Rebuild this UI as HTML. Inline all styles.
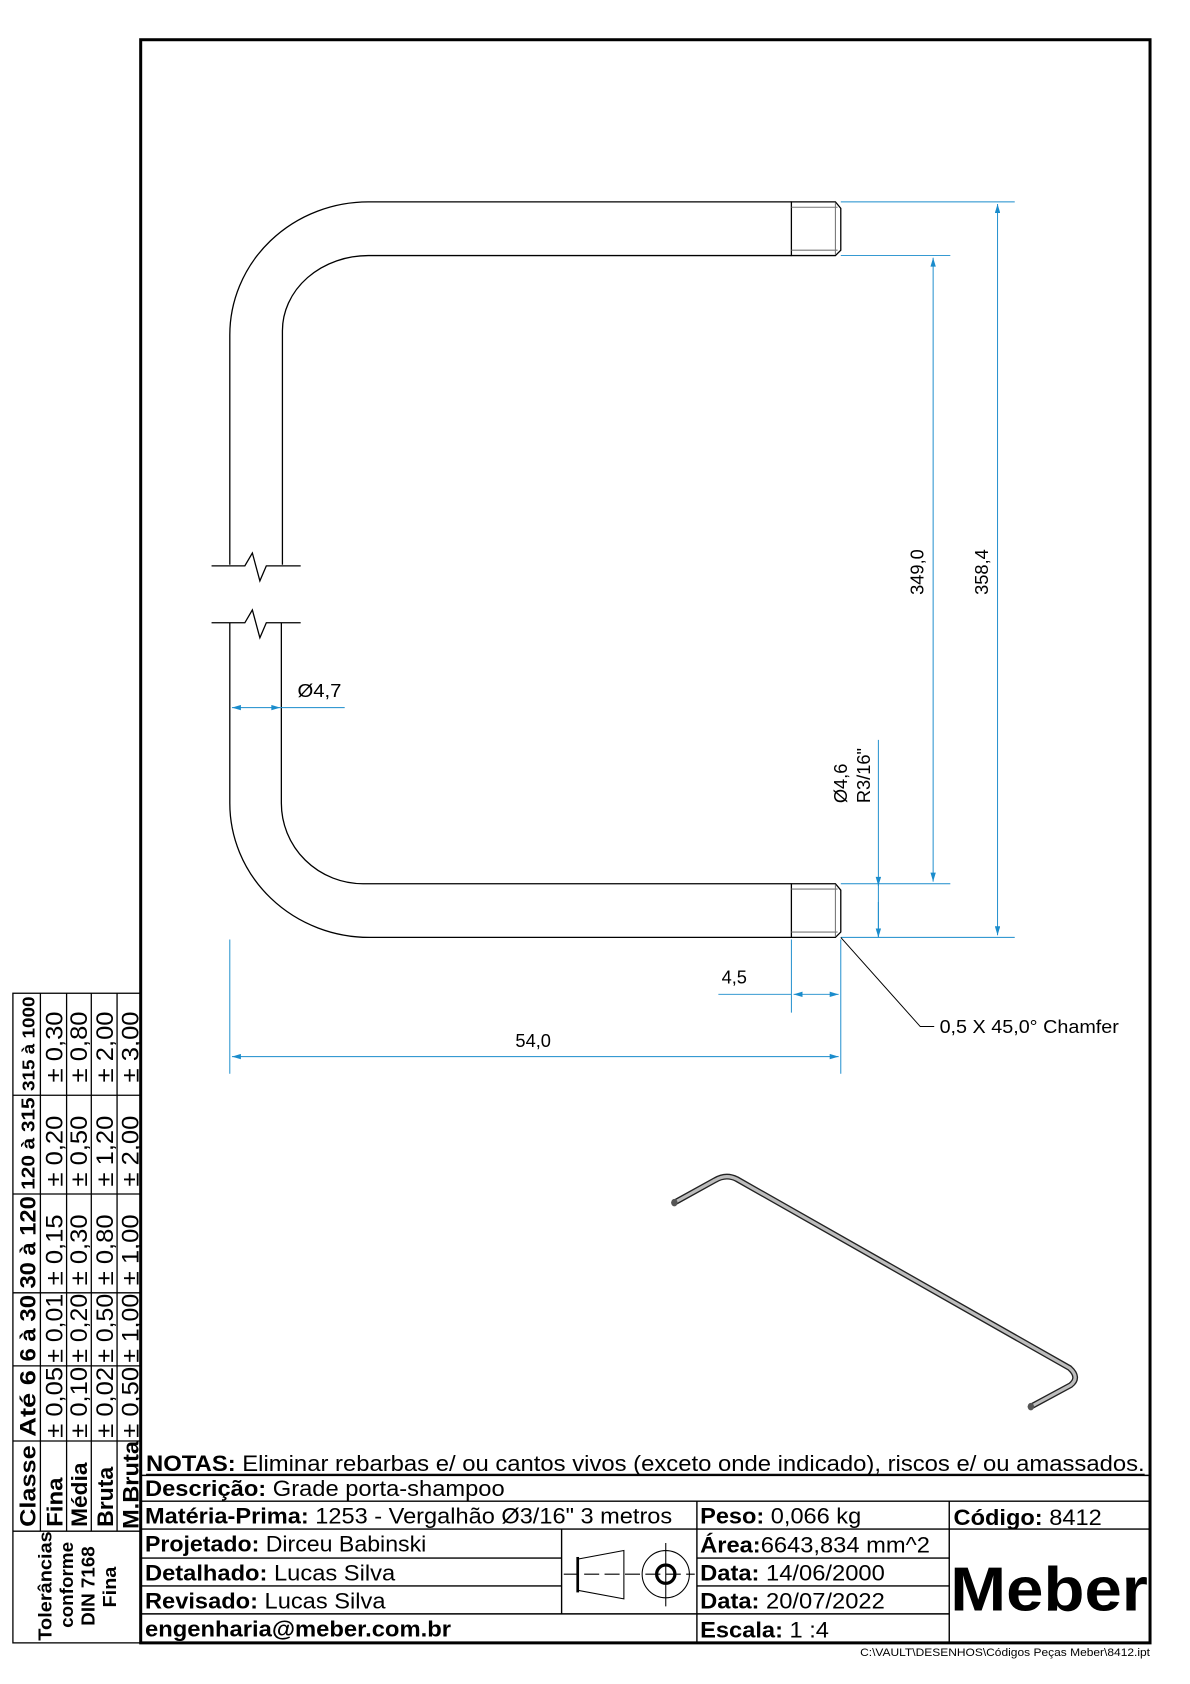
<!DOCTYPE html>
<html><head><meta charset="utf-8"><style>
html,body{margin:0;padding:0;background:#fff;}
svg{display:block;}
text{font-family:"Liberation Sans",Arial,sans-serif;}
.nar{font-family:"Liberation Sans Narrow","Liberation Sans",Arial,sans-serif;}
</style></head><body>
<svg width="1190" height="1684" viewBox="0 0 1108.2 1568.3" xmlns="http://www.w3.org/2000/svg">
<defs>
<marker id="a" viewBox="0 0 10 6" refX="10" refY="3" markerWidth="9" markerHeight="5" orient="auto-start-reverse" markerUnits="userSpaceOnUse"><path d="M0,0 L10,3 L0,6 Z" fill="#1a8ccc"/></marker>
</defs>
<rect width="1108.2" height="1568.3" fill="#fff"/>

<rect x="131" y="37" width="940" height="1493" fill="none" stroke="#000" stroke-width="2.8"/>

<g fill="none" stroke="#000" stroke-width="1.2">
<path d="M214,526 L214,312 A129,124 0 0 1 343,188 L737,188"/>
<path d="M263,526 L263,308 A80,70 0 0 1 343,238 L737,238"/>
<path d="M214,580 L214,748 A130,125 0 0 0 344,873 L737,873"/>
<path d="M262,580 L262,748 A76,75 0 0 0 338,823 L737,823"/>
<path d="M197,527 L228,527 L235,515 L242,541 L248,527 L280,527"/>
<path d="M197,580 L228,580 L235,568 L242,594 L248,580 L280,580"/>
<path d="M737,188 L778,188 L783,194 L783,233 L778,238 L737,238 Z"/>
<path d="M737,823 L778,823 L783,829 L783,868 L778,873 L737,873 Z"/>
</g>
<g stroke="#777" stroke-width="1" fill="none">
<path d="M737,193 L780,193 M737,233 L780,233 M778,189 L778,237"/>
<path d="M737,828 L780,828 M737,868 L780,868 M778,824 L778,872"/>
</g>

<g stroke="#1a8ccc" stroke-width="0.9" fill="none">
<path d="M783,188 L945,188 M783,238 L885,238"/>
<path d="M783,823 L885,823 M783,873 L945,873"/>
<line x1="929" y1="190" x2="929" y2="871" marker-start="url(#a)" marker-end="url(#a)"/>
<line x1="869" y1="240" x2="869" y2="821" marker-start="url(#a)" marker-end="url(#a)"/>
<line x1="818" y1="689" x2="818" y2="825" marker-end="url(#a)"/>
<line x1="818" y1="873" x2="818" y2="840" marker-start="url(#a)"/>
<line x1="818" y1="823" x2="818" y2="873"/>
<line x1="216" y1="659" x2="261" y2="659" marker-start="url(#a)" marker-end="url(#a)"/>
<line x1="261" y1="659" x2="321" y2="659"/>
<path d="M214,875 L214,1000 M783,875 L783,1000 M737,875 L737,943"/>
<line x1="216" y1="984" x2="781" y2="984" marker-start="url(#a)" marker-end="url(#a)"/>
<line x1="669" y1="926" x2="737" y2="926"/>
<line x1="739" y1="926" x2="781" y2="926" marker-start="url(#a)" marker-end="url(#a)"/>
</g>
<path d="M783,873 L857,956 L870,956" fill="none" stroke="#000" stroke-width="0.9"/>

<g font-size="17" fill="#000">
<text x="277" y="649" textLength="41" lengthAdjust="spacingAndGlyphs">Ø4,7</text>
<text x="672" y="916">4,5</text>
<text x="480" y="975">54,0</text>
<text x="875" y="962" textLength="167" lengthAdjust="spacingAndGlyphs">0,5 X 45,0° Chamfer</text>
<text transform="translate(860,554) rotate(-90)">349,0</text>
<text transform="translate(920,554) rotate(-90)">358,4</text>
<text transform="translate(789,748) rotate(-90)">Ø4,6</text>
<text transform="translate(810,748) rotate(-90)">R3/16"</text>
</g>

<g fill="none" stroke-linecap="round" stroke-linejoin="round">
<path d="M628,1120 L666,1099 Q676,1093 686,1098 L996,1274 Q1006,1283 997,1290 L960,1310" stroke="#222" stroke-width="5.5"/>
<path d="M628,1120 L666,1099 Q676,1093 686,1098 L996,1274 Q1006,1283 997,1290 L960,1310" stroke="#bdbdbd" stroke-width="3"/>
</g>
<ellipse cx="628" cy="1120" rx="3" ry="3.5" fill="#555"/>
<ellipse cx="960" cy="1310" rx="3" ry="3.5" fill="#555"/>

<g stroke="#000" stroke-width="1.3" fill="none">
<line x1="131" y1="1374" x2="1071" y2="1374"/>
<line x1="131" y1="1398" x2="1071" y2="1398"/>
<line x1="131" y1="1424" x2="1071" y2="1424"/>
<line x1="649" y1="1398" x2="649" y2="1530"/>
<line x1="884" y1="1398" x2="884" y2="1530"/>
<line x1="523" y1="1424" x2="523" y2="1503"/>
<line x1="131" y1="1451" x2="523" y2="1451"/>
<line x1="131" y1="1477" x2="523" y2="1477"/>
<line x1="131" y1="1503" x2="649" y2="1503"/>
<line x1="649" y1="1451" x2="884" y2="1451"/>
<line x1="649" y1="1477" x2="884" y2="1477"/>
<line x1="649" y1="1503" x2="884" y2="1503"/>
</g>
<g stroke="#000" fill="none">
<path d="M538,1452 L581,1444 L581,1489 L538,1481 Z" stroke-width="1"/>
<line x1="538" y1="1450" x2="538" y2="1483" stroke-width="2.5"/>
<line x1="525" y1="1466" x2="647" y2="1466" stroke-width="1" stroke-dasharray="14,5"/>
<circle cx="620" cy="1466" r="22" stroke-width="1"/>
<circle cx="620" cy="1466" r="8.5" stroke-width="3"/>
<line x1="620" y1="1437" x2="620" y2="1496" stroke-width="1"/>
</g>

<g font-size="21" fill="#000">
<text x="136" y="1370" textLength="930" lengthAdjust="spacingAndGlyphs"><tspan font-weight="bold">NOTAS:</tspan> Eliminar rebarbas e/ ou cantos vivos (exceto onde indicado), riscos e/ ou amassados.</text>
<line x1="136" y1="1373" x2="1066" y2="1373" stroke="#000" stroke-width="1"/>
<text x="135" y="1393" textLength="335" lengthAdjust="spacingAndGlyphs"><tspan font-weight="bold">Descrição:</tspan> Grade porta-shampoo</text>
<text x="135" y="1419" textLength="491" lengthAdjust="spacingAndGlyphs"><tspan font-weight="bold">Matéria-Prima:</tspan> 1253 - Vergalhão Ø3/16" 3 metros</text>
<text x="135" y="1445" textLength="262" lengthAdjust="spacingAndGlyphs"><tspan font-weight="bold">Projetado:</tspan> Dirceu Babinski</text>
<text x="135" y="1472" textLength="233" lengthAdjust="spacingAndGlyphs"><tspan font-weight="bold">Detalhado:</tspan> Lucas Silva</text>
<text x="135" y="1498" textLength="224" lengthAdjust="spacingAndGlyphs"><tspan font-weight="bold">Revisado:</tspan> Lucas Silva</text>
<text x="135" y="1524" font-weight="bold" textLength="285" lengthAdjust="spacingAndGlyphs">engenharia@meber.com.br</text>
</g>
<g font-size="21" fill="#000" class="nar">
<text x="652" y="1419" textLength="150" lengthAdjust="spacingAndGlyphs"><tspan font-weight="bold">Peso:</tspan> 0,066 kg</text>
<text x="652" y="1446" textLength="214" lengthAdjust="spacingAndGlyphs"><tspan font-weight="bold">Área:</tspan>6643,834 mm^2</text>
<text x="652" y="1472" textLength="172" lengthAdjust="spacingAndGlyphs"><tspan font-weight="bold">Data:</tspan> 14/06/2000</text>
<text x="652" y="1498" textLength="172" lengthAdjust="spacingAndGlyphs"><tspan font-weight="bold">Data:</tspan> 20/07/2022</text>
<text x="652" y="1525" textLength="120" lengthAdjust="spacingAndGlyphs"><tspan font-weight="bold">Escala:</tspan> 1 :4</text>
<text x="888" y="1420" textLength="138" lengthAdjust="spacingAndGlyphs"><tspan font-weight="bold">Código:</tspan> 8412</text>
</g>
<text x="885" y="1500" font-size="58" font-weight="bold" fill="#000" textLength="184" lengthAdjust="spacingAndGlyphs">Meber</text>
<text x="1071" y="1542" font-size="10" text-anchor="end" fill="#000" textLength="270" lengthAdjust="spacingAndGlyphs">C:\VAULT\DESENHOS\Códigos Peças Meber\8412.ipt</text>

<g stroke="#000" stroke-width="1.2" fill="none">
<rect x="12" y="925" width="119" height="605"/>
<line x1="12" y1="1426" x2="131" y2="1426"/>
<line x1="12" y1="1342" x2="131" y2="1342"/>
<line x1="12" y1="1272" x2="131" y2="1272"/>
<line x1="12" y1="1204" x2="131" y2="1204"/>
<line x1="12" y1="1112" x2="131" y2="1112"/>
<line x1="12" y1="1020" x2="131" y2="1020"/>
<line x1="37.6" y1="925" x2="37.6" y2="1426"/>
<line x1="62" y1="925" x2="62" y2="1426"/>
<line x1="85" y1="925" x2="85" y2="1426"/>
<line x1="109" y1="925" x2="109" y2="1426"/>
</g>
<g fill="#000" class="nar">
<g font-size="21" font-weight="bold">
<text transform="translate(33,1422) rotate(-90)" textLength="76" lengthAdjust="spacingAndGlyphs">Classe</text>
<text transform="translate(33,1338) rotate(-90)" textLength="62" lengthAdjust="spacingAndGlyphs">Até 6</text>
<text transform="translate(33,1268) rotate(-90)" textLength="62" lengthAdjust="spacingAndGlyphs">6 à 30</text>
<text transform="translate(33,1200) rotate(-90)" textLength="86" lengthAdjust="spacingAndGlyphs">30 à 120</text>
<text transform="translate(32,1108) rotate(-90)" font-size="17" textLength="86" lengthAdjust="spacingAndGlyphs">120 à 315</text>
<text transform="translate(32,1016) rotate(-90)" font-size="16.5" textLength="88" lengthAdjust="spacingAndGlyphs">315 à 1000</text>
<text transform="translate(58,1422) rotate(-90)" textLength="46" lengthAdjust="spacingAndGlyphs">Fina</text>
<text transform="translate(81,1422) rotate(-90)" textLength="60" lengthAdjust="spacingAndGlyphs">Média</text>
<text transform="translate(105,1422) rotate(-90)" textLength="56" lengthAdjust="spacingAndGlyphs">Bruta</text>
<text transform="translate(129,1424) rotate(-90)" textLength="82" lengthAdjust="spacingAndGlyphs">M.Bruta</text>
</g>
<g font-size="22">
<text transform="translate(58,1339) rotate(-90)" textLength="66" lengthAdjust="spacingAndGlyphs">± 0,05</text>
<text transform="translate(81,1339) rotate(-90)" textLength="66" lengthAdjust="spacingAndGlyphs">± 0,10</text>
<text transform="translate(105,1339) rotate(-90)" textLength="66" lengthAdjust="spacingAndGlyphs">± 0,02</text>
<text transform="translate(129,1339) rotate(-90)" textLength="66" lengthAdjust="spacingAndGlyphs">± 0,50</text>
<text transform="translate(58,1269) rotate(-90)" textLength="64" lengthAdjust="spacingAndGlyphs">± 0,01</text>
<text transform="translate(81,1269) rotate(-90)" textLength="64" lengthAdjust="spacingAndGlyphs">± 0,20</text>
<text transform="translate(105,1269) rotate(-90)" textLength="64" lengthAdjust="spacingAndGlyphs">± 0,50</text>
<text transform="translate(129,1269) rotate(-90)" textLength="64" lengthAdjust="spacingAndGlyphs">± 1,00</text>
<text transform="translate(58,1197) rotate(-90)" textLength="66" lengthAdjust="spacingAndGlyphs">± 0,15</text>
<text transform="translate(81,1197) rotate(-90)" textLength="66" lengthAdjust="spacingAndGlyphs">± 0,30</text>
<text transform="translate(105,1197) rotate(-90)" textLength="66" lengthAdjust="spacingAndGlyphs">± 0,80</text>
<text transform="translate(129,1197) rotate(-90)" textLength="66" lengthAdjust="spacingAndGlyphs">± 1,00</text>
<text transform="translate(58,1105) rotate(-90)" textLength="66" lengthAdjust="spacingAndGlyphs">± 0,20</text>
<text transform="translate(81,1105) rotate(-90)" textLength="66" lengthAdjust="spacingAndGlyphs">± 0,50</text>
<text transform="translate(105,1105) rotate(-90)" textLength="66" lengthAdjust="spacingAndGlyphs">± 1,20</text>
<text transform="translate(129,1105) rotate(-90)" textLength="66" lengthAdjust="spacingAndGlyphs">± 2,00</text>
<text transform="translate(58,1008) rotate(-90)" textLength="66" lengthAdjust="spacingAndGlyphs">± 0,30</text>
<text transform="translate(81,1008) rotate(-90)" textLength="66" lengthAdjust="spacingAndGlyphs">± 0,80</text>
<text transform="translate(105,1008) rotate(-90)" textLength="66" lengthAdjust="spacingAndGlyphs">± 2,00</text>
<text transform="translate(129,1008) rotate(-90)" textLength="66" lengthAdjust="spacingAndGlyphs">± 3,00</text>
</g>
<g font-size="17" font-weight="bold">
<text transform="translate(48,1528) rotate(-90)" textLength="102" lengthAdjust="spacingAndGlyphs">Tolerâncias</text>
<text transform="translate(68,1516) rotate(-90)" textLength="80" lengthAdjust="spacingAndGlyphs">conforme</text>
<text transform="translate(88,1514) rotate(-90)" textLength="74" lengthAdjust="spacingAndGlyphs">DIN 7168</text>
<text transform="translate(108,1497) rotate(-90)" textLength="38" lengthAdjust="spacingAndGlyphs">Fina</text>
</g>
</g>
</svg>
</body></html>
